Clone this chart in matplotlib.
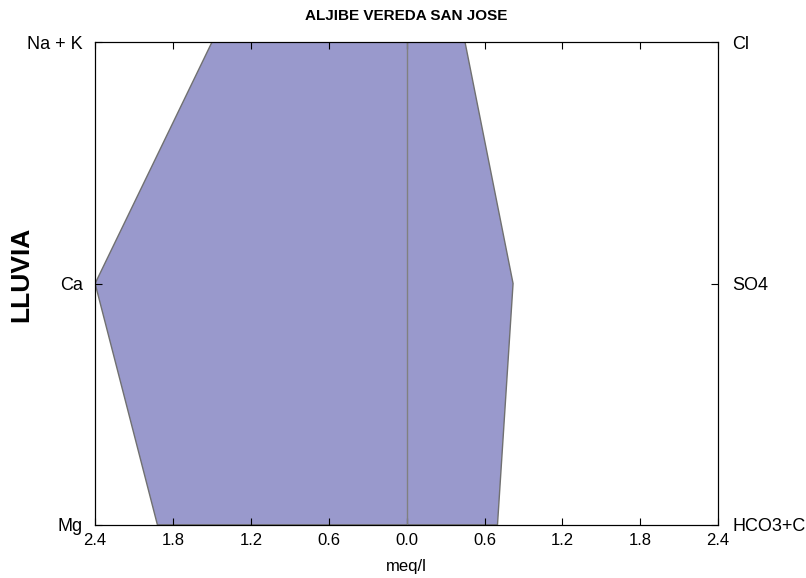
import matplotlib
matplotlib.use('Agg')
import matplotlib.pyplot as plt

plt.rcParams['font.family'] = ['Liberation Sans', 'DejaVu Sans']

# Stiff diagram data (meq/l)
cations = ['Na + K', 'Ca', 'Mg']
anions = ['Cl', 'SO4', 'HCO3+CO3']
cation_vals = [1.50, 2.40, 1.92]
anion_vals = [0.45, 0.82, 0.70]
xticks = [-2.4, -1.8, -1.2, -0.6, 0.0, 0.6, 1.2, 1.8, 2.4]
xtick_labels = ['2.4', '1.8', '1.2', '0.6', '0.0', '0.6', '1.2', '1.8', '2.4']

ypos = [3, 2, 1]

fig = plt.figure(figsize=(8.06, 5.78), dpi=100)
ax = fig.add_axes([0.118, 0.092, 0.773, 0.835])

# polygon: cations on the left (negative), anions on the right
xs = [-v for v in cation_vals] + anion_vals[::-1]
ys = ypos + ypos[::-1]
ax.fill(xs, ys, facecolor='#9999cc', edgecolor='#707070', linewidth=1.0)
ax.axvline(0, color='#808080', linewidth=1.0)

ax.set_xlim(-2.4, 2.4)
ax.set_ylim(1, 3)
ax.set_xticks(xticks)
ax.set_xticklabels(xtick_labels, fontsize=12)
ax.set_yticks(ypos)
ax.set_yticklabels(cations, fontsize=13)
ax.tick_params(axis='x', direction='in', top=True, length=5, pad=6)
ax.tick_params(axis='y', direction='in', length=5, pad=9)
ax.set_xlabel('meq/l', fontsize=12, labelpad=8)
ax.set_ylabel('LLUVIA', fontsize=19, fontweight='bold')
ax.yaxis.set_label_coords(-0.1, 0.518)

ax2 = ax.twinx()
ax2.set_ylim(1, 3)
ax2.set_yticks(ypos)
ax2.set_yticklabels(anions, fontsize=13)
ax2.tick_params(direction='in', length=5, pad=10)

ax.set_title('ALJIBE VEREDA SAN JOSE', fontsize=11, fontweight='bold', pad=16)

fig.savefig('out.png', dpi=100)
